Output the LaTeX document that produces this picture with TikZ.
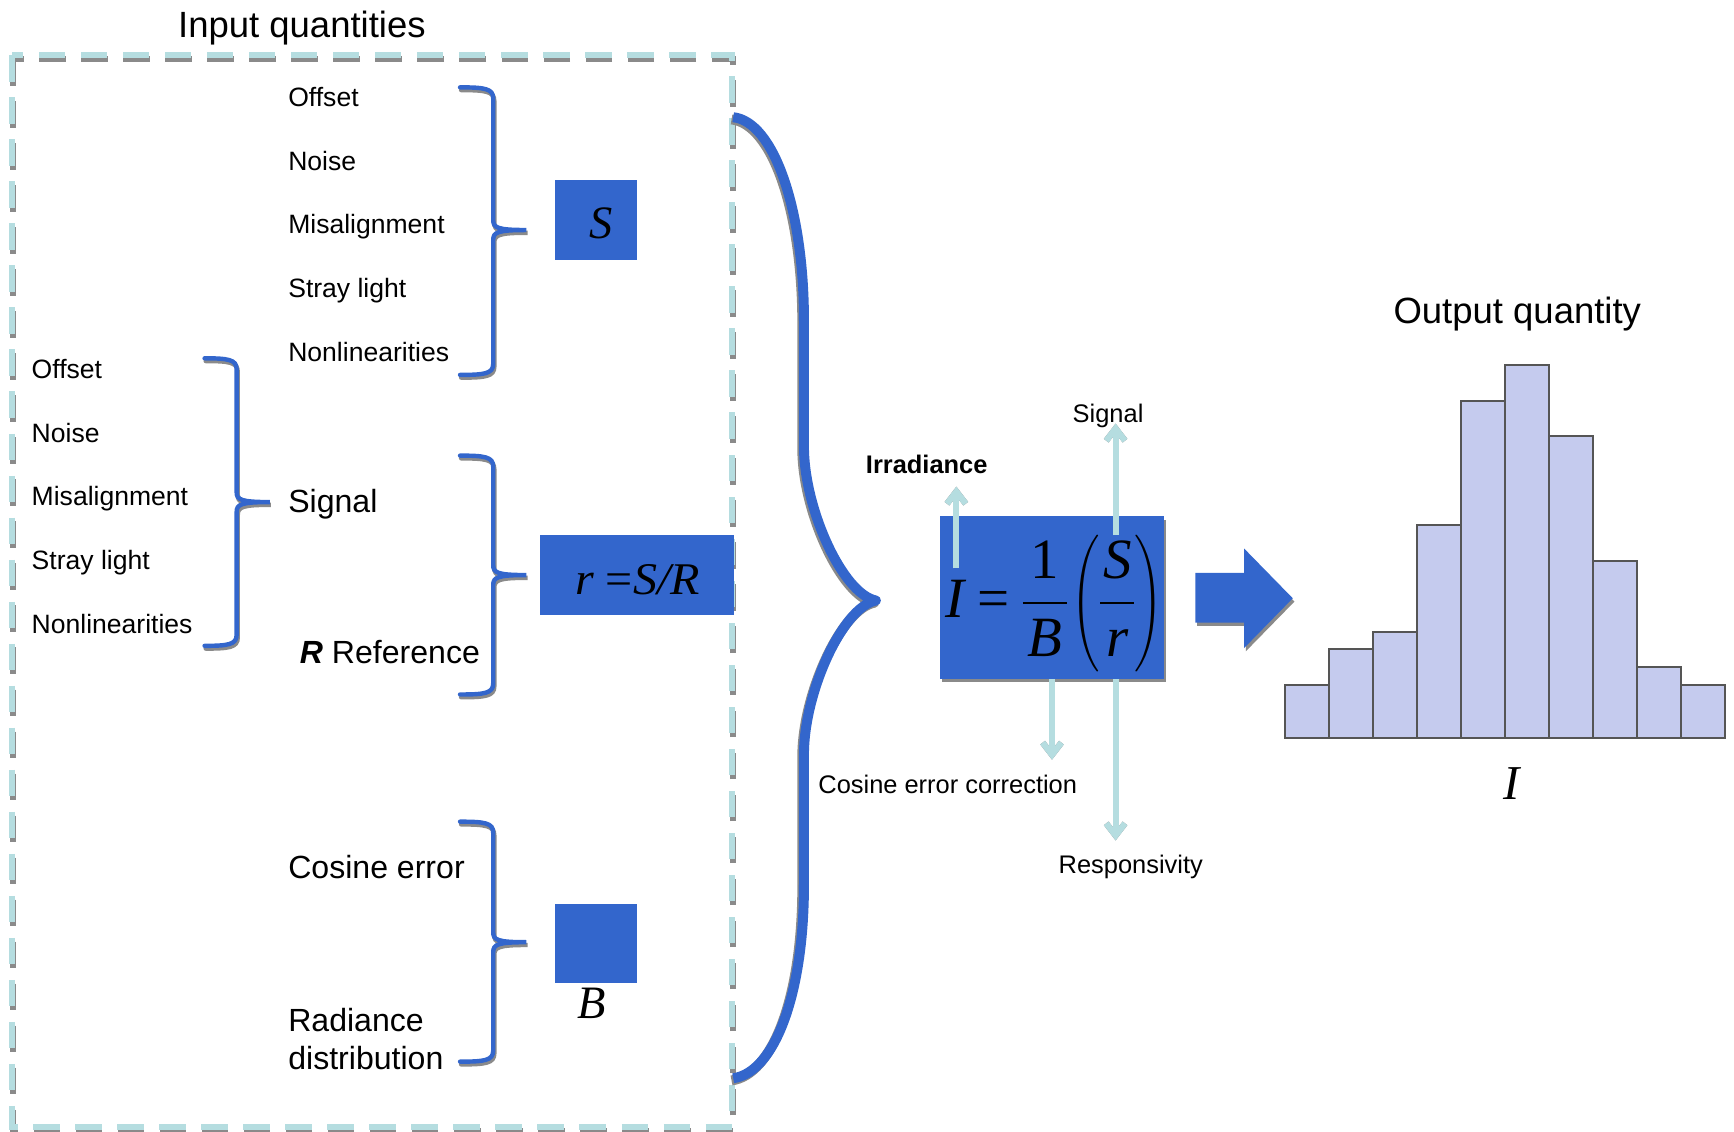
\documentclass[tikz,border=0pt]{standalone}
\usepackage{graphicx}
\usepackage{amsmath}
\usepackage{fontspec}
\setmainfont{Liberation Sans}
\newfontfamily\tms{Liberation Serif}
\usetikzlibrary{arrows.meta,shadows}
\definecolor{bl}{HTML}{3366CC}
\definecolor{lb}{HTML}{B5DDE0}
\definecolor{sh}{HTML}{8A8A8A}
\definecolor{hf}{HTML}{C5CBEE}
\definecolor{he}{HTML}{555555}
\newcommand\fs[1]{\fontsize{#1}{#1}\selectfont}
\newcommand\tmi[1]{\text{\tms\itshape #1}}
\newcommand\tmu[1]{\text{\tms #1}}
\newcommand\thinlp{\scalebox{0.68}[1]{$\displaystyle\left(\vphantom{\frac{S}{r}}\right.$}}
\newcommand\thinrp{\scalebox{0.68}[1]{$\displaystyle\left.\vphantom{\frac{S}{r}}\right)$}}
\newcommand\drawbrack[6]{% #1 x, #2 end x, #3 top, #4 mid, #5 bottom, #6 tip x
  \foreach \st/\dx/\dy in {brksh/1/2.5, brk/0/0}{
    \draw[\st, shift={(\dx,\dy)}] (#2,#3) .. controls ({#1-8},#3) and (#1,{#3+1}) .. (#1,{#3+10})
      -- (#1,{#4-9}) .. controls (#1,{#4-2}) and ({#1+4},#4) .. (#6,#4)
      .. controls ({#1+4},#4) and (#1,{#4+2}) .. (#1,{#4+9})
      -- (#1,{#5-10}) .. controls (#1,{#5-1}) and ({#1-8},#5) .. (#2,#5);
  }}
\tikzset{
  txt/.style={font=\fs{24}, inner sep=0pt, anchor=base west},
  txtL/.style={font=\fs{29}, inner sep=0pt, anchor=base west},
  ttl/.style={font=\fs{33}, inner sep=0pt, anchor=base},
  lbl/.style={font=\fs{23}, inner sep=0pt, anchor=base},
  mathlbl/.style={font=\tms\itshape\fs{42}, inner sep=0pt, anchor=base},
  bbox/.style={fill=bl, draw=none, inner sep=0pt},
  lbarrow/.style={draw=lb, line width=5.5pt, -{Straight Barb[length=11pt,width=17pt]}},
  lbshadow/.style={draw=sh, line width=5.5pt, -{Straight Barb[length=11pt,width=17pt]}},
  brk/.style={draw=bl, line width=4pt, line cap=round},
  brksh/.style={draw=sh, line width=4pt, line cap=round},
}
\begin{document}
\begin{tikzpicture}[x=1pt,y=-1pt]
\useasboundingbox (0,0) rectangle (1568,1023);

% dashed frame of input quantities
\draw[sh, line width=5.5pt, dash pattern=on 24pt off 14pt, shift={(0.5,3.5)}] (11,50) rectangle (662,1019);
\draw[lb, line width=5.5pt, dash pattern=on 24pt off 14pt] (11,50) rectangle (662,1019);
\node[ttl] (tin) at (273,34) {Input quantities};

% top group
\node[txt] (o1) at (260.5,96) {Offset};
\node[txt] (n1) at (260.5,154) {Noise};
\node[txt] (m1) at (260.5,211) {Misalignment};
\node[txt] (s1) at (260.5,269) {Stray light};
\node[txt] (l1) at (260.5,327) {Nonlinearities};
% left group
\node[txt] (o2) at (28.5,342) {Offset};
\node[txt] (n2) at (28.5,400) {Noise};
\node[txt] (m2) at (28.5,457) {Misalignment};
\node[txt] (s2) at (28.5,515) {Stray light};
\node[txt] (l2) at (28.5,573) {Nonlinearities};

\node[txtL] (sig) at (260.5,463) {Signal};
\node[txtL] (ref) at (271,600) {\textbf{\textit{R}} Reference};
\node[txtL] (cos) at (260.5,794) {Cosine error};
\node[txtL] (rad1) at (260.5,933) {Radiance};
\node[txtL] (rad2) at (260.5,967.5) {distribution};

% brackets
\drawbrack{446}{416}{79}{208}{339}{476}
\drawbrack{214}{185}{324}{454}{584}{244}
\drawbrack{446}{416}{412}{520}{628}{476}
\drawbrack{446}{416}{743}{852}{960}{476}

% boxes
\node[bbox, minimum width=74pt, minimum height=72pt] (sbox) at (539,199) {};
\node[mathlbl] (stxt) at (543.5,216) {S};
\node[bbox, minimum width=175.5pt, minimum height=72pt] (rbox) at (575.75,520) {};
\node[font=\tms\fs{41}, inner sep=0pt, anchor=base] (rtxt) at (576.4,538) {\scalebox{1.06}[1]{\textit{r} =\textit{S/R}}};
\node[bbox, minimum width=74pt, minimum height=72pt] (bboxn) at (539,853) {};
\node[mathlbl] (btxt) at (535,921) {B};

% big brace
\foreach \c/\dx/\dy in {sh/-1.5/2, bl/0/0}{
  \draw[\c, line width=9pt, line cap=butt, line join=round, shift={(\dx,\dy)}]
    (663,106) .. controls (700,110) and (727,190) .. (727,290)
    -- (727,404) .. controls (727,460) and (762,537) .. (792,543)
    .. controls (762,549) and (727,626) .. (727,682)
    -- (727,800) .. controls (727,900) and (700,970) .. (663,975);
}

% formula box
\node[bbox, minimum width=203pt, minimum height=147pt,
      drop shadow={shadow xshift=1.5pt, shadow yshift=-3pt, opacity=1, fill=sh}] (fbox) at (951.5,540.5) {};
\node[inner sep=0pt] (ftxt) at (953,545.5) {\scalebox{5.15}{\fs{10}\nulldelimiterspace=0pt$\displaystyle
  \tmi{I}\mkern4.2mu\tmu{=}\mkern4.2mu{\frac{\tmu{1}}{\mkern1.45mu\tmi{B}\mkern1.45mu}}\mkern1.6mu\thinlp{\frac{\mkern0.8mu\tmi{S}\mkern0.8mu}{\tmi{r}}}\thinrp$}};

% light blue arrows
\coordinate (irrA) at (864.8,514);
\coordinate (irrB) at (864.8,440);
\coordinate (sigA) at (1008.8,484);
\coordinate (sigB) at (1008.8,383);
\coordinate (cosB) at (951.3,687);
\coordinate (resB) at (1008.8,760);
\foreach \st/\dx/\dy in {lbshadow/0.5/3, lbarrow/0/0}{
  \draw[\st, shift={(\dx,\dy)}] (irrA) -- (irrB);
  \draw[\st, shift={(\dx,\dy)}] (sigA) -- (sigB);
  \draw[\st, shift={(\dx,\dy)}] (fbox.south -| cosB) -- (cosB);
  \draw[\st, shift={(\dx,\dy)}] (fbox.south -| resB) -- (resB);
}
\node[lbl, font=\bfseries\fs{23}] (irr) at (838,428) {Irradiance};
\node[lbl] (sigl) at (1002,382) {Signal};
\node[lbl] (cosl) at (857,717.5) {Cosine error correction};
\node[lbl] (resl) at (1022.5,790) {Responsivity};

% block arrow
\foreach \c/\dx/\dy in {sh/1.5/3, bl/0/0}{
  \fill[\c, shift={(\dx,\dy)}] (1081,518) -- (1125,518) -- (1125,496) -- (1169,541)
    -- (1125,586) -- (1125,563) -- (1081,563) -- cycle;
}

% histogram
\node[ttl] (tout) at (1372,292.4) {Output quantity};
\foreach \h [count=\i from 0] in {619.4,587.2,571.2,474.7,362.3,330,394,507,603.4,619.4}{
  \draw[fill=hf, draw=he, line width=1.8pt] ({1162.2+39.74*\i},667.6) rectangle ({1162.2+39.74*(\i+1)},\h);
}
\node[font=\tms\itshape\fs{44}, inner sep=0pt, anchor=base] (hI) at (1367,723) {I};
\end{tikzpicture}
\end{document}
